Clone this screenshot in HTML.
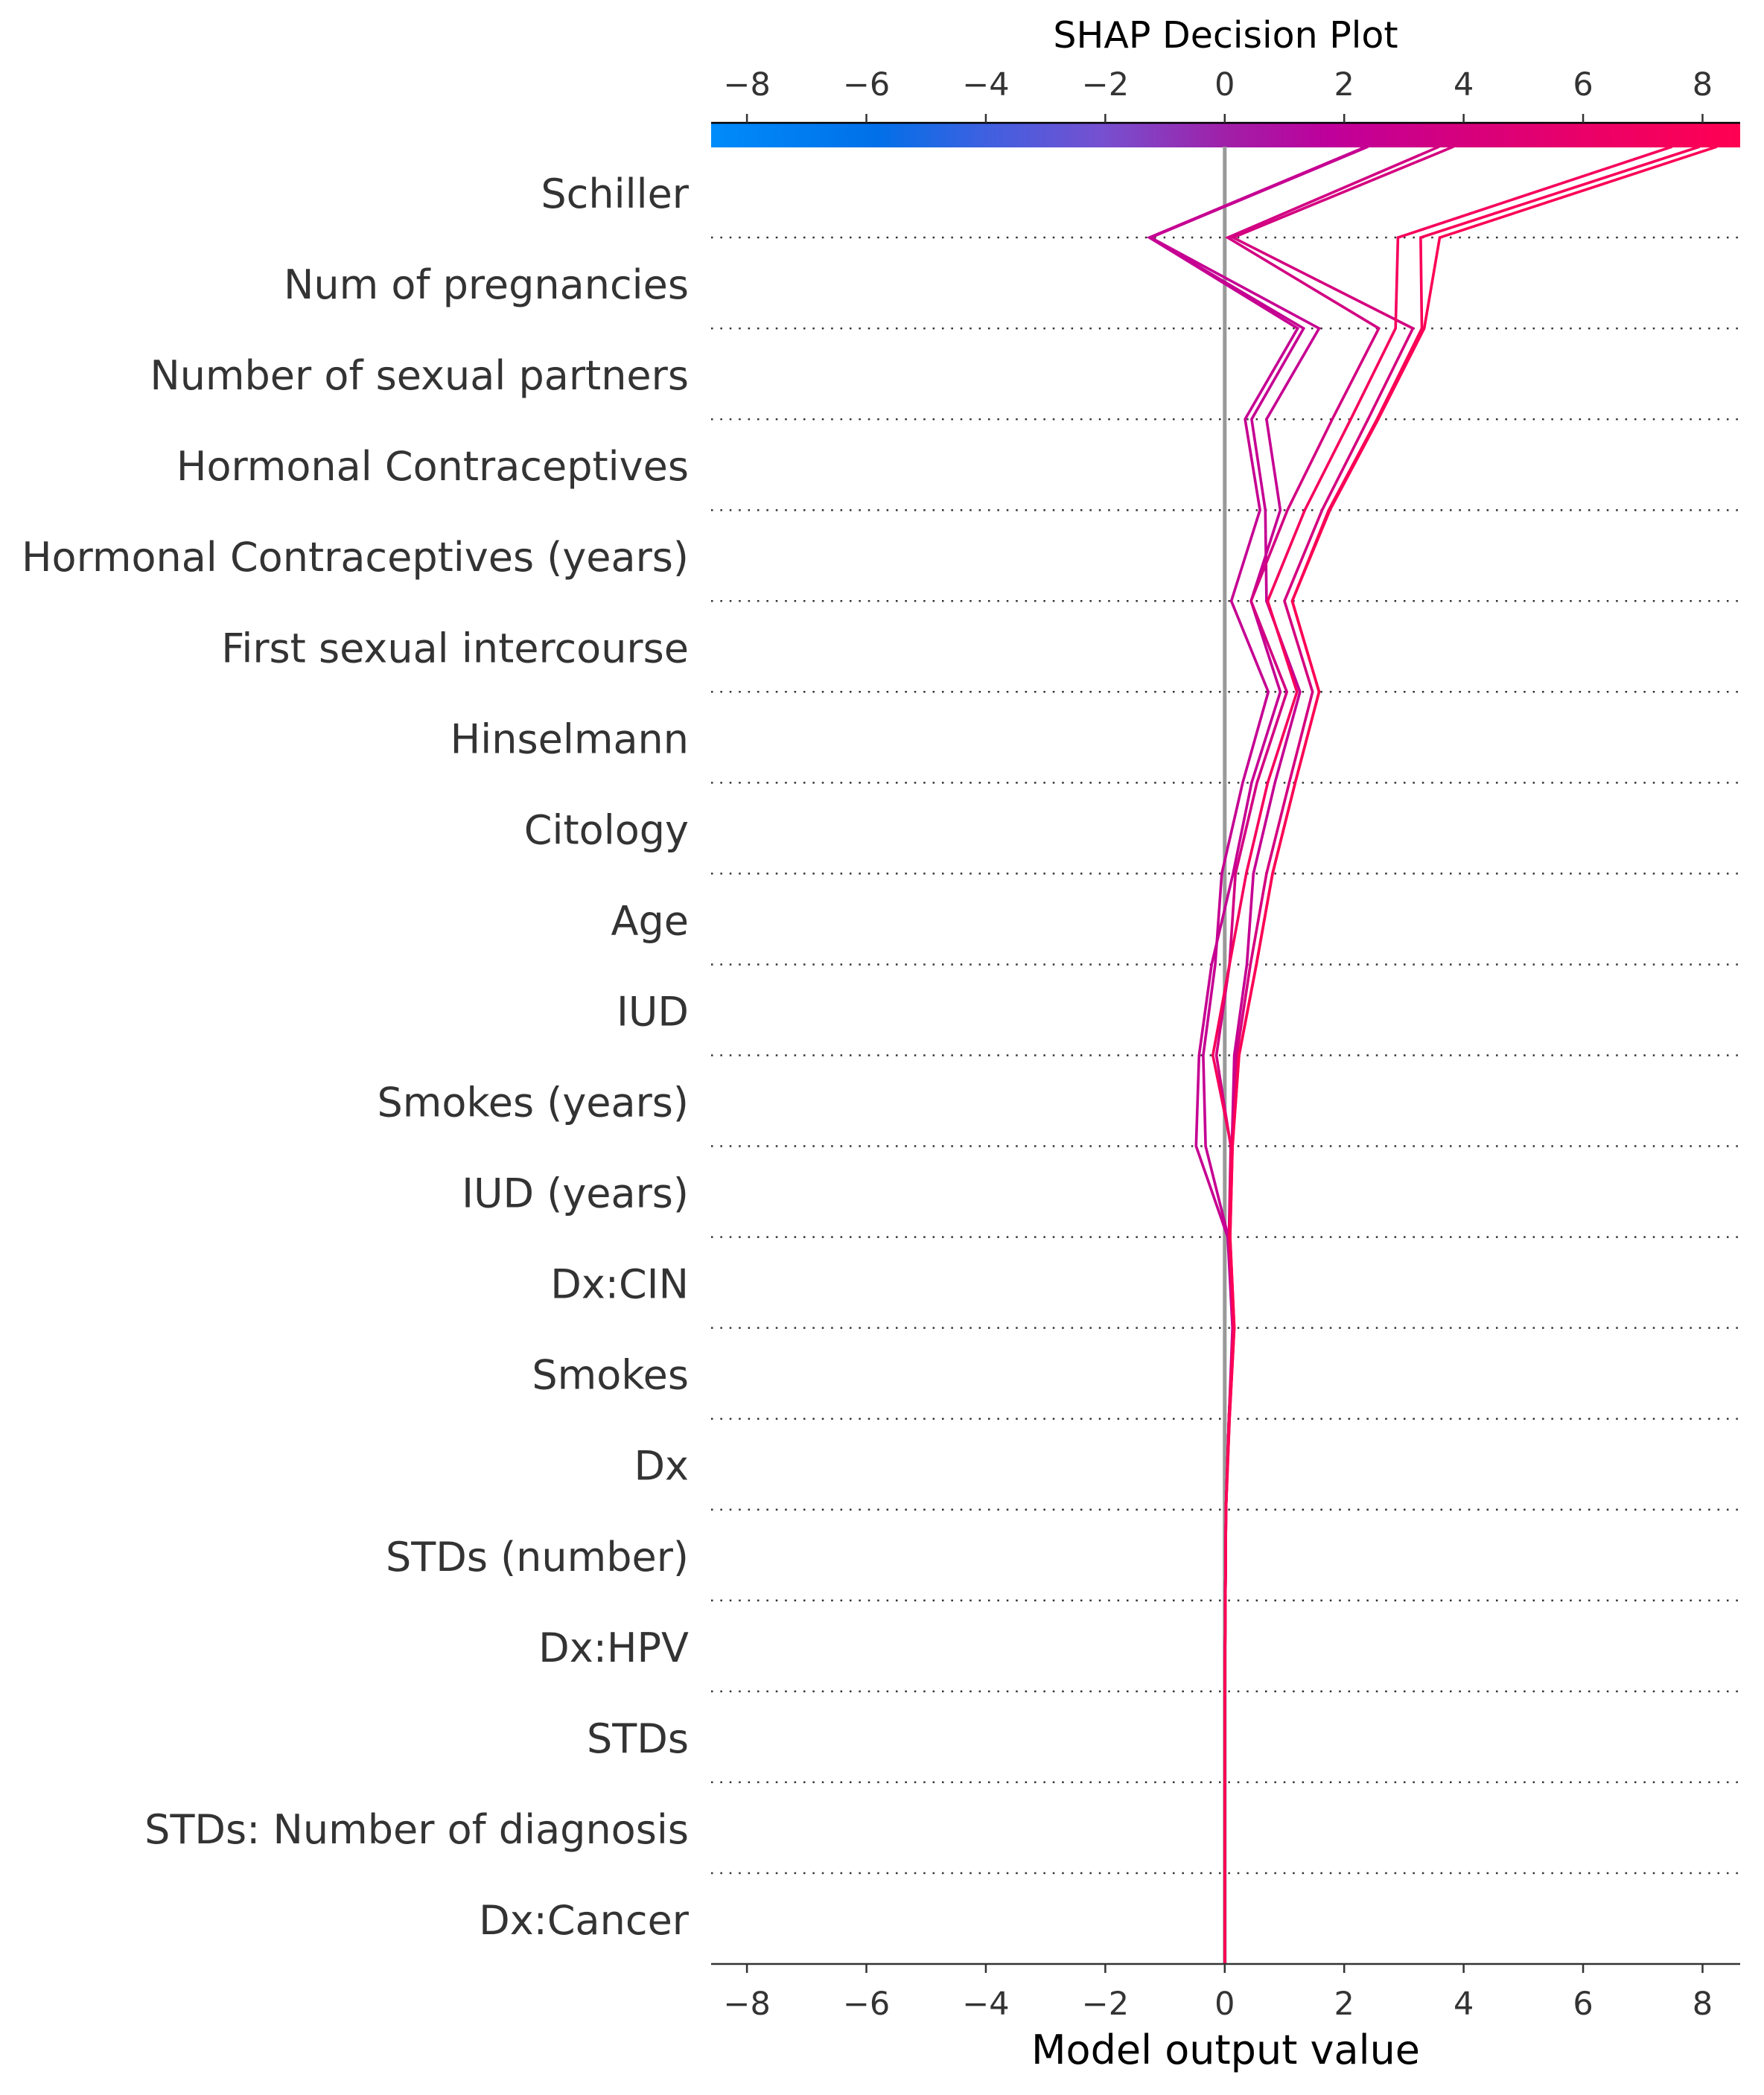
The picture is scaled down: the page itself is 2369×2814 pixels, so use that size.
<!DOCTYPE html>
<html><head><meta charset="utf-8"><title>SHAP Decision Plot</title>
<style>
html,body{margin:0;padding:0;background:#fff;}
svg{display:block;font-family:"DejaVu Sans","Liberation Sans",sans-serif;}
</style></head>
<body>
<svg id="chart" width="2369" height="2814" viewBox="0 0 2369 2814" xmlns="http://www.w3.org/2000/svg">
<defs>
<linearGradient id="cmap" x1="0" x2="1" y1="0" y2="0">
<stop offset="0" stop-color="#008bfb"/>
<stop offset="0.16" stop-color="#0070e8"/>
<stop offset="0.27" stop-color="#4060e0"/>
<stop offset="0.38" stop-color="#7650d0"/>
<stop offset="0.5" stop-color="#a020a8"/>
<stop offset="0.6" stop-color="#bf009b"/>
<stop offset="0.72" stop-color="#d4007f"/>
<stop offset="0.85" stop-color="#ea0068"/>
<stop offset="1" stop-color="#ff0052"/>
</linearGradient>
</defs>
<g id="g"></g>
</svg>
<script>
const features = ["Schiller","Num of pregnancies","Number of sexual partners","Hormonal Contraceptives","Hormonal Contraceptives (years)","First sexual intercourse","Hinselmann","Citology","Age","IUD","Smokes (years)","IUD (years)","Dx:CIN","Smokes","Dx","STDs (number)","Dx:HPV","STDs","STDs: Number of diagnosis","Dx:Cancer"];
const xTicks = [-8,-6,-4,-2,0,2,4,6,8];
// cumulative model output at each row boundary, from top (final output) to bottom (base value)
const seriesP1 = [2.37,-1.26,1.22,0.34,0.59,0.11,0.73,0.30,-0.05,-0.16,-0.36,-0.32,0.06,0.14,0.07,0.02,0.01,0,0,0,0];
const seriesP2 = [2.37,-1.26,1.32,0.45,0.68,0.70,1.26,0.84,0.48,0.37,0.16,0.12,0.07,0.14,0.07,0.02,0.01,0,0,0,0];
const seriesP3 = [2.40,-1.24,1.58,0.70,0.93,0.44,0.93,0.45,0.14,-0.22,-0.43,-0.48,0.05,0.13,0.07,0.02,0.01,0,0,0,0];
const seriesM1 = [3.59,0.05,2.58,1.80,1.05,0.44,1.04,0.54,0.18,0.08,-0.14,0.10,0.07,0.14,0.07,0.02,0.01,0,0,0,0];
const seriesM2 = [3.83,0.14,3.15,2.40,1.63,1.00,1.47,1.08,0.70,0.43,0.20,0.12,0.08,0.15,0.07,0.02,0.01,0,0,0,0];
const seriesR1 = [7.49,2.90,2.86,2.11,1.34,0.72,1.21,0.72,0.36,0.08,-0.20,0.11,0.08,0.15,0.07,0.02,0.01,0,0,0,0];
const seriesR2 = [7.95,3.28,3.30,2.55,1.74,1.13,1.58,1.18,0.80,0.53,0.24,0.13,0.09,0.16,0.08,0.02,0.01,0,0,0,0];
const seriesR3 = [8.24,3.60,3.34,2.57,1.76,1.13,1.58,1.18,0.80,0.53,0.24,0.13,0.09,0.16,0.08,0.02,0.01,0,0,0,0];
const allSeries = [seriesP1,seriesP2,seriesP3,seriesM1,seriesM2,seriesR1,seriesR2,seriesR3];

const NS="http://www.w3.org/2000/svg";
const g=document.getElementById('g');
const X0=955, X1=2337, XMIN=-8.6, XMAX=8.63;
const YTOP=197, YBOT=2638;
const rowH=(YBOT-YTOP)/features.length;
function x(v){return X0+(v-XMIN)/(XMAX-XMIN)*(X1-X0);}
function yB(k){return YTOP+k*rowH;}
function mk(tag,attrs,parent){const e=document.createElementNS(NS,tag);for(const k in attrs)e.setAttribute(k,attrs[k]);(parent||g).appendChild(e);return e;}
const stops=[[0,[0,139,251]],[0.16,[0,112,232]],[0.27,[64,96,224]],[0.38,[118,80,208]],[0.5,[160,32,168]],[0.6,[191,0,155]],[0.72,[212,0,127]],[0.85,[234,0,104]],[1,[255,0,82]]];
function color(v){let t=(v-XMIN)/(XMAX-XMIN);t=Math.max(0,Math.min(1,t));for(let i=1;i<stops.length;i++){if(t<=stops[i][0]){const a=stops[i-1],b=stops[i];const f=(t-a[0])/(b[0]-a[0]);const c=a[1].map((c0,j)=>Math.round(c0+(b[1][j]-c0)*f));return `rgb(${c.join(',')})`;}}return 'rgb(255,0,82)';}

let t=mk('text',{x:1646,y:64,'text-anchor':'middle','font-size':49,fill:'#000'});


t.textContent='SHAP Decision Plot';

let cb=mk('rect',{x:X0,y:165,width:X1-X0,height:33,fill:'url(#cmap)'});


mk('line',{x1:X0,x2:X1,y1:165,y2:165,stroke:'#000','stroke-width':2.5});

for(let k=1;k<features.length;k++){
  const l=mk('line',{x1:X0,x2:X1,y1:yB(k),y2:yB(k),stroke:'#333','stroke-width':2.5,'stroke-dasharray':'2.5 9.9'});
  
  
}
features.forEach((f,i)=>{
  const e=mk('text',{x:925,y:yB(i)+rowH/2+21,'text-anchor':'end','font-size':54,fill:'#333'});
  
  
  e.textContent=f;
});
let zl=mk('line',{x1:x(0),x2:x(0),y1:YTOP,y2:YBOT,stroke:'#999','stroke-width':5});



allSeries.forEach(s=>{
  const pts=s.map((v,k)=>x(v).toFixed(1)+','+yB(k).toFixed(1)).join(' ');
  const p=mk('polyline',{points:pts,fill:'none',stroke:color(s[0]),'stroke-width':3.6,'stroke-linejoin':'miter'});
  
  
});

let ax=mk('line',{x1:X0,x2:X1,y1:YBOT,y2:YBOT,stroke:'#333','stroke-width':2.5});


xTicks.forEach(v=>{
  mk('line',{x1:x(v),x2:x(v),y1:YBOT,y2:YBOT+12,stroke:'#333','stroke-width':2.5});
  const e=mk('text',{x:x(v),y:2706,'text-anchor':'middle','font-size':43,fill:'#333'});
  
  
  e.textContent=(v<0?'\u2212'+(-v):String(v));
  mk('line',{x1:x(v),x2:x(v),y1:165,y2:153,stroke:'#333','stroke-width':2.5});
  const e2=mk('text',{x:x(v),y:128,'text-anchor':'middle','font-size':43,fill:'#333'});
  
  
  e2.textContent=(v<0?'\u2212'+(-v):String(v));
});
let xl=mk('text',{x:1646,y:2772,'text-anchor':'middle','font-size':54,fill:'#000'});


xl.textContent='Model output value';
</script>
</body></html>
